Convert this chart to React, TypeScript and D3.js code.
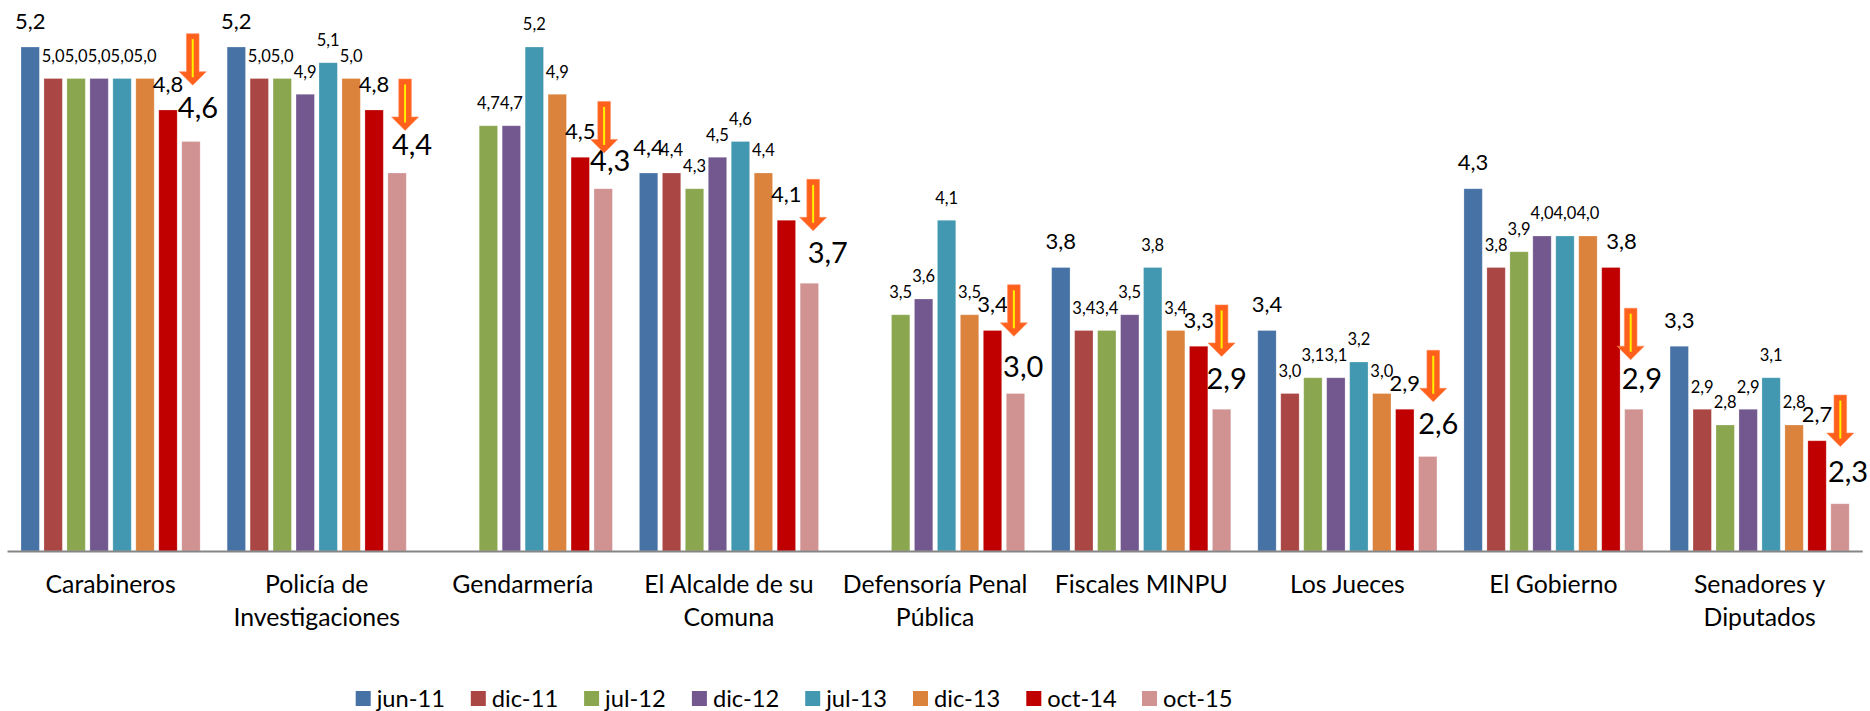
import React from "react";
import * as d3 from "d3";

const categories: string[][] = [
  ["Carabineros"],
  ["Policía de", "Investigaciones"],
  ["Gendarmería"],
  ["El Alcalde de su", "Comuna"],
  ["Defensoría Penal", "Pública"],
  ["Fiscales MINPU"],
  ["Los Jueces"],
  ["El Gobierno"],
  ["Senadores y", "Diputados"],
];
const seriesNames = ["jun-11", "dic-11", "jul-12", "dic-12", "jul-13", "dic-13", "oct-14", "oct-15"];
const colors = ["#4672A6", "#AA4644", "#8AA64F", "#72588F", "#4298B0", "#DB833D", "#C00000", "#D19292"];

const jun11 = [5.2, 5.2, null, 4.4, null, 3.8, 3.4, 4.3, 3.3];
const dic11 = [5.0, 5.0, null, 4.4, null, 3.4, 3.0, 3.8, 2.9];
const jul12 = [5.0, 5.0, 4.7, 4.3, 3.5, 3.4, 3.1, 3.9, 2.8];
const dic12 = [5.0, 4.9, 4.7, 4.5, 3.6, 3.5, 3.1, 4.0, 2.9];
const jul13 = [5.0, 5.1, 5.2, 4.6, 4.1, 3.8, 3.2, 4.0, 3.1];
const dic13 = [5.0, 5.0, 4.9, 4.4, 3.5, 3.4, 3.0, 4.0, 2.8];
const oct14 = [4.8, 4.8, 4.5, 4.1, 3.4, 3.3, 2.9, 3.8, 2.7];
const oct15 = [4.6, 4.4, 4.3, 3.7, 3.0, 2.9, 2.6, 2.9, 2.3];
const seriesValues = [jun11, dic11, jul12, dic12, jul13, dic13, oct14, oct15];

// layout of the hand-placed annotations, per category
const lastLabelDx = [7, 15, 7, 18.5, 7.7, 5, 10.5, 8, 8];
const lastLabelGap = [23.5, 18, 17.5, 20, 16.7, 20, 23, 20, 21.7];
const arrowDx = [1.8, 8, 0.9, 3.8, -1.6, 0, 5.5, -3.2, 0.3];
const arrowLift = [107.8, 94, 87.3, 103.9, 108.7, 104.3, 106.2, 101, 108.7];
const legendLeft = [355.7, 470.8, 584.1, 691.9, 805.2, 913, 1026.3, 1142];

const W = 1870, H = 711;
const FONT = "Lato, Carlito, sans-serif";
const yMin = 2, yMax = 5.2;
const y = d3.scaleLinear().domain([yMin, yMax]).range([551, 47]);
const x0 = d3.scaleBand<number>().domain(categories.map((_, i) => i)).range([7.5, 1862.7]);
const x1 = d3.scaleBand<number>()
  .domain(seriesNames.map((_, i) => i))
  .range([13.5, x0.bandwidth() - 13.5])
  .paddingInner(0.2);
const fmt = (v: number) => v.toFixed(1).replace(".", ",");

function labelStyle(s: number) {
  if (s === 7) return { size: 29, gap: 20 };
  if (s === 0 || s === 6) return { size: 22, gap: 18.5 };
  return { size: 16.5, gap: 16.7 };
}
function labelDx(s: number, c: number) {
  if (s === 7) return lastLabelDx[c];
  if (s === 6 && c === 7) return 10.7;
  return 0;
}

export default function App() {
  const arrowPath = (cx: number, top: number) => {
    const p = d3.path();
    p.moveTo(cx - 6.3, top);
    p.lineTo(cx + 6.3, top);
    p.lineTo(cx + 6.3, top + 38);
    p.lineTo(cx + 13.5, top + 38);
    p.lineTo(cx, top + 51.5);
    p.lineTo(cx - 13.5, top + 38);
    p.lineTo(cx - 6.3, top + 38);
    p.closePath();
    return p.toString();
  };
  const bw = x1.bandwidth();
  return (
    <svg width={W} height={H} viewBox={`0 0 ${W} ${H}`}
      style={{ position: "absolute", left: 0, top: 0, display: "block", background: "#fff" }}
      fontFamily={FONT}>
      {seriesValues.map((vals, s) => (
        <g key={seriesNames[s]} fill={colors[s]}>
          {vals.map((v, c) => v == null ? null : (
            <rect key={c} x={x0(c)! + x1(s)!} y={y(v)} width={bw} height={y(yMin) - y(v)}
              stroke="#fff" strokeOpacity={0.3} strokeWidth={0.8} />
          ))}
        </g>
      ))}
      <line x1={7.5} x2={1862.7} y1={y(yMin) + 0.5} y2={y(yMin) + 0.5} stroke="#868686" strokeWidth={2} />
      {seriesValues.map((vals, s) => (
        <g key={seriesNames[s]} fill="#000" textAnchor="middle">
          {vals.map((v, c) => {
            if (v == null) return null;
            const st = labelStyle(s);
            const gap = s === 7 ? lastLabelGap[c] : st.gap;
            return (
              <text key={c} x={x0(c)! + x1(s)! + bw / 2 + labelDx(s, c)} y={y(v) - gap} fontSize={st.size}>
                {fmt(v)}
              </text>
            );
          })}
        </g>
      ))}
      {oct15.map((v, c) => {
        const cx = x0(c)! + x1(7)! + bw / 2 + arrowDx[c];
        const top = y(v) - arrowLift[c];
        return (
          <g key={c}>
            <path d={arrowPath(cx, top)} fill="#FF611C" stroke="#FF8A5C" strokeWidth={0.6} />
            <line x1={cx} x2={cx} y1={top + 5.5} y2={top + 43.5} stroke="#FFF200" strokeWidth={2} />
          </g>
        );
      })}
      {categories.map((lines, c) => (
        <text key={c} textAnchor="middle" fontSize={24.8} fill="#000">
          {lines.map((l, i) => (
            <tspan key={i} x={x0(c)! + x0.bandwidth() / 2} y={592.7 + i * 33.3}>{l}</tspan>
          ))}
        </text>
      ))}
      {seriesNames.map((n, s) => (
        <g key={n}>
          <rect x={legendLeft[s]} y={691} width={15} height={15} fill={colors[s]} />
          <text x={legendLeft[s] + 21} y={706.5} fontSize={23.7} fill="#000">{n}</text>
        </g>
      ))}
    </svg>
  );
}
